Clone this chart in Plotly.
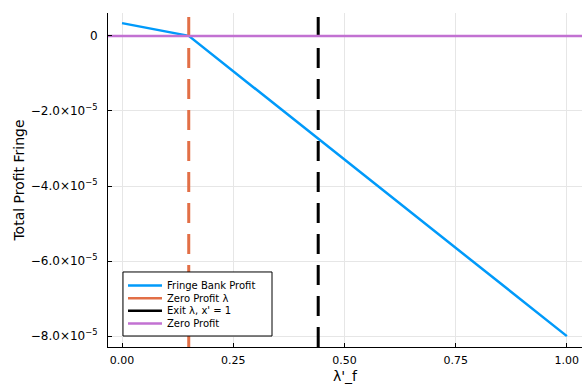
import plotly.graph_objects as go

# Data
lam_f = [0.0, 0.15, 1.0]
fringe_profit = [3.4e-6, 0.0, -8.0e-5]
zero_profit_lambda = 0.15
exit_lambda = 0.441
zero_x = [-0.0315, 1.034]
zero_y = [0.0, 0.0]

series_names = ["Fringe Bank Profit", "Zero Profit λ", "Exit λ, x' = 1", "Zero Profit"]
series_colors = ["#009AFA", "#E26F46", "black", "#C271D2"]

x_ticks = [0.0, 0.25, 0.5, 0.75, 1.0]
x_ticklabels = ["0.00", "0.25", "0.50", "0.75", "1.00"]
y_ticks = [0.0, -2e-5, -4e-5, -6e-5, -8e-5]
y_ticklabels = ["0", "−2.0×10<sup>−5</sup>", "−4.0×10<sup>−5</sup>",
                "−6.0×10<sup>−5</sup>", "−8.0×10<sup>−5</sup>"]

y_range = [-8.29e-5, 6.1e-6]
x_range = [-0.0315, 1.034]

fig = go.Figure()
fig.add_trace(go.Scatter(x=lam_f, y=fringe_profit, mode="lines",
                         name=series_names[0], showlegend=False,
                         line=dict(color=series_colors[0], width=2.5)))
fig.add_trace(go.Scatter(x=[zero_profit_lambda, zero_profit_lambda], y=y_range,
                         mode="lines", name=series_names[1], showlegend=False,
                         line=dict(color=series_colors[1], width=3, dash="20px,11px")))
fig.add_trace(go.Scatter(x=[exit_lambda, exit_lambda], y=y_range,
                         mode="lines", name=series_names[2], showlegend=False,
                         line=dict(color=series_colors[2], width=3, dash="20px,11px")))
fig.add_trace(go.Scatter(x=zero_x, y=zero_y, mode="lines", name=series_names[3],
                         showlegend=False,
                         line=dict(color=series_colors[3], width=2.5)))

# Compact legend box (Julia/GR style) drawn in paper coordinates
shapes = [dict(type="rect", xref="paper", yref="paper", x0=0.0316, x1=0.346,
               y0=0.0329, y1=0.2246, fillcolor="white",
               line=dict(color="black", width=1), layer="above")]
annotations = []
row_y = [0.1841, 0.1461, 0.1084, 0.0704]
for name, color, yy in zip(series_names, series_colors, row_y):
    shapes.append(dict(type="line", xref="paper", yref="paper", x0=0.0422, x1=0.1139,
                       y0=yy, y1=yy, line=dict(color=color, width=2.5), layer="above"))
    annotations.append(dict(xref="paper", yref="paper", x=0.1203, y=yy, text=name,
                            showarrow=False, xanchor="left", yanchor="middle",
                            font=dict(size=10, color="black")))

axis_common = dict(showgrid=True, gridcolor="#e6e6e6", gridwidth=1,
                   showline=True, linecolor="black", linewidth=1,
                   ticks="inside", ticklen=4, tickcolor="black",
                   zeroline=False, mirror=False, automargin=False)

fig.update_layout(
    width=582, height=386,
    margin=dict(l=108, r=0, t=13, b=39),
    paper_bgcolor="white", plot_bgcolor="white",
    font=dict(family="DejaVu Sans", color="black"),
    showlegend=False,
    shapes=shapes,
    annotations=annotations,
    xaxis=dict(range=x_range, tickvals=x_ticks, ticktext=x_ticklabels,
               tickfont=dict(size=11, color="black"), ticklabelstandoff=3,
               title=dict(text="λ'_f", font=dict(size=14), standoff=4),
               **axis_common),
    yaxis=dict(range=y_range, tickvals=y_ticks, ticktext=y_ticklabels,
               tickfont=dict(size=12, color="black"), ticklabelstandoff=7,
               title=dict(text="Total Profit Fringe", font=dict(size=14), standoff=2),
               **axis_common),
)

# Remove the default page margin so the figure fills the window exactly
fig.write_html("out.html", config={"displayModeBar": False},
               post_script="document.body.style.margin='0';document.body.style.overflow='hidden';")
